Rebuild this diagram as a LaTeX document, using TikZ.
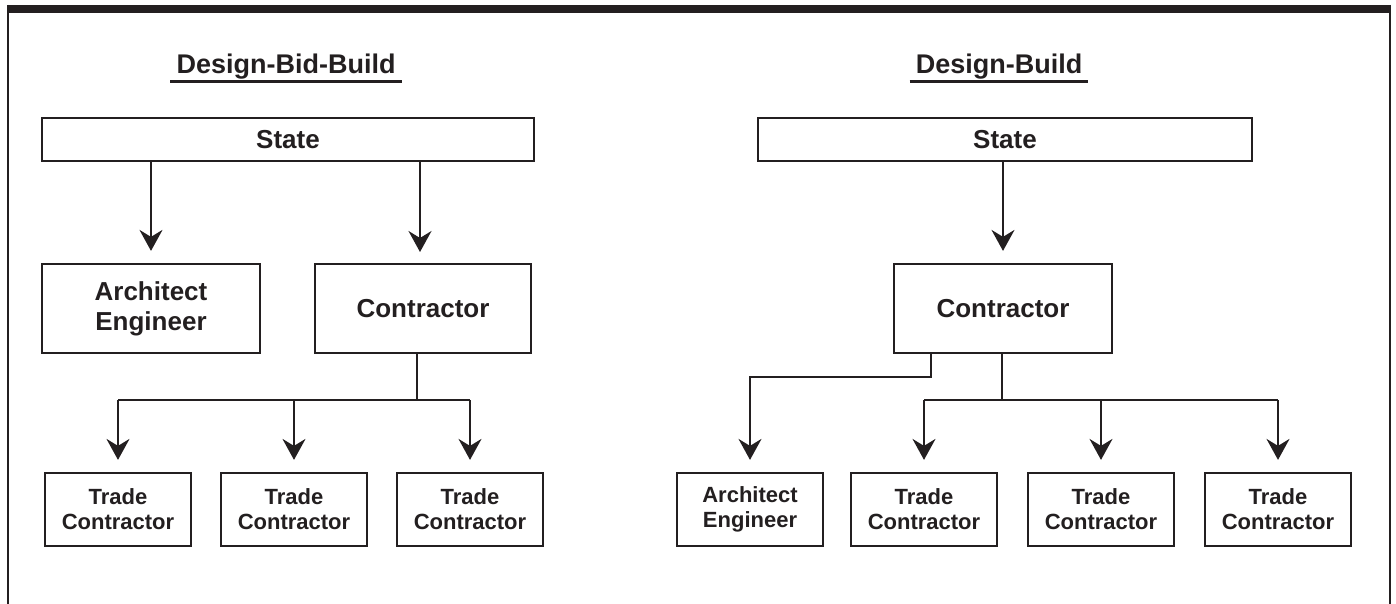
\documentclass[tikz,border=0pt]{standalone}
\usepackage{fontspec}
\setmainfont{Liberation Sans}
\usetikzlibrary{arrows.meta,calc}
\definecolor{ink}{HTML}{231F20}
\begin{document}
\begin{tikzpicture}[x=1pt,y=-1pt,
  every node/.style={text=ink},
  box/.style={draw=ink, line width=2.2pt, inner sep=0pt, align=center},
  big/.style={font=\bfseries\fontsize{26}{30}\selectfont},
  small/.style={font=\bfseries\fontsize{22}{25}\selectfont},
  ttl/.style={font=\bfseries\fontsize{27}{30}\selectfont, inner xsep=6pt, inner ysep=0pt, anchor=base},
  ul/.style={draw=ink, line width=2.5pt},
  conn/.style={draw=ink, line width=2pt},
  arr/.style={conn, -{Stealth[length=21pt,width=23pt,inset=7pt]}, shorten >=12pt},
  frame/.style={draw=ink, line width=2pt},
]
\useasboundingbox (0,0) rectangle (1396,604);

% frame and top bar
\fill[ink] (7,5) rectangle (1391,13);
\draw[frame] (8,5) -- (8,604);
\draw[frame] (1390,5) -- (1390,604);

% ---------- Design-Bid-Build ----------
\node[ttl] (tL) at (286,74) {Design-Bid-Build};
\draw[ul] ([yshift=-7.5pt]tL.base west) -- ([yshift=-7.5pt]tL.base east);

\node[box,big,minimum width=492pt,minimum height=43pt] (stateL) at (288,139.5) {State};
\node[box,big,minimum width=218pt,minimum height=89pt] (archL) at (151,308.5) {Architect\\Engineer};
\node[box,big,minimum width=216pt,minimum height=89pt] (contL) at (423,308.5) {Contractor};
\node[box,small,minimum width=146pt,minimum height=73pt] (tL1) at (118,509.5) {Trade\\Contractor};
\node[box,small,minimum width=146pt,minimum height=73pt] (tL2) at (294,509.5) {Trade\\Contractor};
\node[box,small,minimum width=146pt,minimum height=73pt] (tL3) at (470,509.5) {Trade\\Contractor};

\draw[arr] (stateL.south -| archL.north) -- (archL.north);
\draw[arr] (stateL.south -| 420,0) -- (420,264);
\coordinate (jL) at (417,400);
\draw[conn] (contL.south -| jL) -- (jL);
\draw[conn] (tL1.north |- jL) -- (tL3.north |- jL);
\draw[arr] (tL1.north |- jL) -- (tL1.north);
\draw[arr] (tL2.north |- jL) -- (tL2.north);
\draw[arr] (tL3.north |- jL) -- (tL3.north);

% ---------- Design-Build ----------
\node[ttl] (tR) at (999,74) {Design-Build};
\draw[ul] ([yshift=-7.5pt]tR.base west) -- ([yshift=-7.5pt]tR.base east);

\node[box,big,minimum width=494pt,minimum height=43pt] (stateR) at (1005,139.5) {State};
\node[box,big,minimum width=218pt,minimum height=89pt] (contR) at (1003,308.5) {Contractor};
\node[box,small,minimum width=146pt,minimum height=73pt] (aR) at (750,509.5) {Architect\\Engineer};
\node[box,small,minimum width=146pt,minimum height=73pt] (tR1) at (924,509.5) {Trade\\Contractor};
\node[box,small,minimum width=146pt,minimum height=73pt] (tR2) at (1101,509.5) {Trade\\Contractor};
\node[box,small,minimum width=146pt,minimum height=73pt] (tR3) at (1278,509.5) {Trade\\Contractor};

\draw[arr] (stateR.south -| contR.north) -- (contR.north);
\coordinate (jA) at (931,377);
\draw[arr] (contR.south -| jA) -- (jA) -| (aR.north);
\coordinate (jR) at (1002,400);
\draw[conn] (contR.south -| jR) -- (jR);
\draw[conn] (tR1.north |- jR) -- (tR3.north |- jR);
\draw[arr] (tR1.north |- jR) -- (tR1.north);
\draw[arr] (tR2.north |- jR) -- (tR2.north);
\draw[arr] (tR3.north |- jR) -- (tR3.north);
\end{tikzpicture}
\end{document}
